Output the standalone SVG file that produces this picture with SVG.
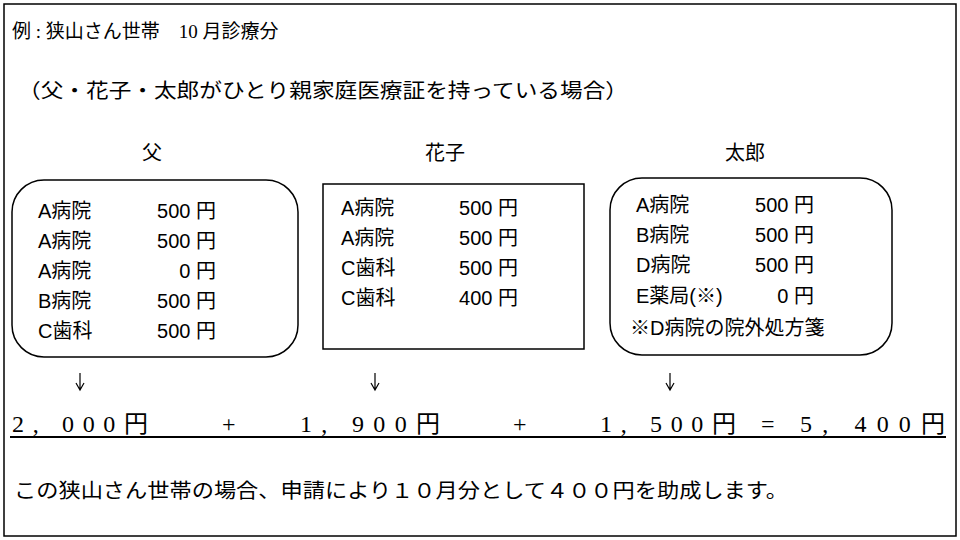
<svg xmlns="http://www.w3.org/2000/svg" width="960" height="540" viewBox="0 0 960 540">
<style>
.s{font-family:"Liberation Serif","Noto Sans CJK JP",serif;fill:#000}
.g{font-family:"Liberation Sans","Noto Sans CJK JP",sans-serif;fill:#000;font-size:20px}
.b{fill:none;stroke:#000;stroke-width:1.5}
.r{text-anchor:end}
.a{stroke:#000;stroke-width:1.2;fill:none}
</style>
<rect x="0" y="0" width="960" height="540" fill="#fff"/>
<rect x="4" y="4" width="952" height="532" class="b"/>
<text class="s" x="12" y="38" font-size="19">例 : 狭山さん世帯　10 月診療分</text>
<text class="s" x="18" y="98" font-size="20" textLength="610" lengthAdjust="spacingAndGlyphs">（父・花子・太郎がひとり親家庭医療証を持っている場合）</text>
<text class="s" x="152" y="160" font-size="20" text-anchor="middle">父</text>
<text class="s" x="445" y="160" font-size="20" text-anchor="middle">花子</text>
<text class="s" x="745" y="160" font-size="20" text-anchor="middle">太郎</text>
<g id="node-father">
<rect x="12" y="180" width="286" height="177" rx="32" class="b"/>
<text class="g" x="38" y="218">A病院</text><text class="g r" x="216" y="218">500 円</text>
<text class="g" x="38" y="248">A病院</text><text class="g r" x="216" y="248">500 円</text>
<text class="g" x="38" y="278">A病院</text><text class="g r" x="216" y="278">0 円</text>
<text class="g" x="38" y="308">B病院</text><text class="g r" x="216" y="308">500 円</text>
<text class="g" x="38" y="338">C歯科</text><text class="g r" x="216" y="338">500 円</text>
</g>
<g id="node-hanako">
<rect x="323" y="184" width="261" height="165" class="b"/>
<text class="g" x="341" y="215">A病院</text><text class="g r" x="518" y="215">500 円</text>
<text class="g" x="341" y="245">A病院</text><text class="g r" x="518" y="245">500 円</text>
<text class="g" x="341" y="275">C歯科</text><text class="g r" x="518" y="275">500 円</text>
<text class="g" x="341" y="305">C歯科</text><text class="g r" x="518" y="305">400 円</text>
</g>
<g id="node-taro">
<rect x="610" y="178" width="282" height="177" rx="32" class="b"/>
<text class="g" x="636" y="212">A病院</text><text class="g r" x="814" y="212">500 円</text>
<text class="g" x="636" y="242">B病院</text><text class="g r" x="814" y="242">500 円</text>
<text class="g" x="636" y="272">D病院</text><text class="g r" x="814" y="272">500 円</text>
<text class="g" x="636" y="303">E薬局(※)</text><text class="g r" x="814" y="303">0 円</text>
<text class="g" x="630" y="335">※D病院の院外処方箋</text>
</g>
<g id="connectors">
<path class="a" d="M80 373V390M76 383L80 390L84 383"/>
<path class="a" d="M375 373V390M371 383L375 390L379 383"/>
<path class="a" d="M670 373V390M666 383L670 390L674 383"/>
</g>
<g class="s" font-size="24">
<text x="12" y="432" textLength="136" lengthAdjust="spacing">2, 000円</text>
<text x="222" y="432">+</text>
<text x="300" y="432" textLength="140" lengthAdjust="spacing">1, 900円</text>
<text x="513" y="432">+</text>
<text x="600" y="432" textLength="136" lengthAdjust="spacing">1, 500円</text>
<text x="761" y="432">=</text>
<text x="800" y="432" textLength="145" lengthAdjust="spacing">5, 400円</text>
</g>
<line x1="10" y1="437" x2="946" y2="437" stroke="#000" stroke-width="2"/>
<text class="s" x="14" y="498" font-size="20" textLength="774" lengthAdjust="spacingAndGlyphs">この狭山さん世帯の場合、申請により１０月分として４００円を助成します。</text>
</svg>
